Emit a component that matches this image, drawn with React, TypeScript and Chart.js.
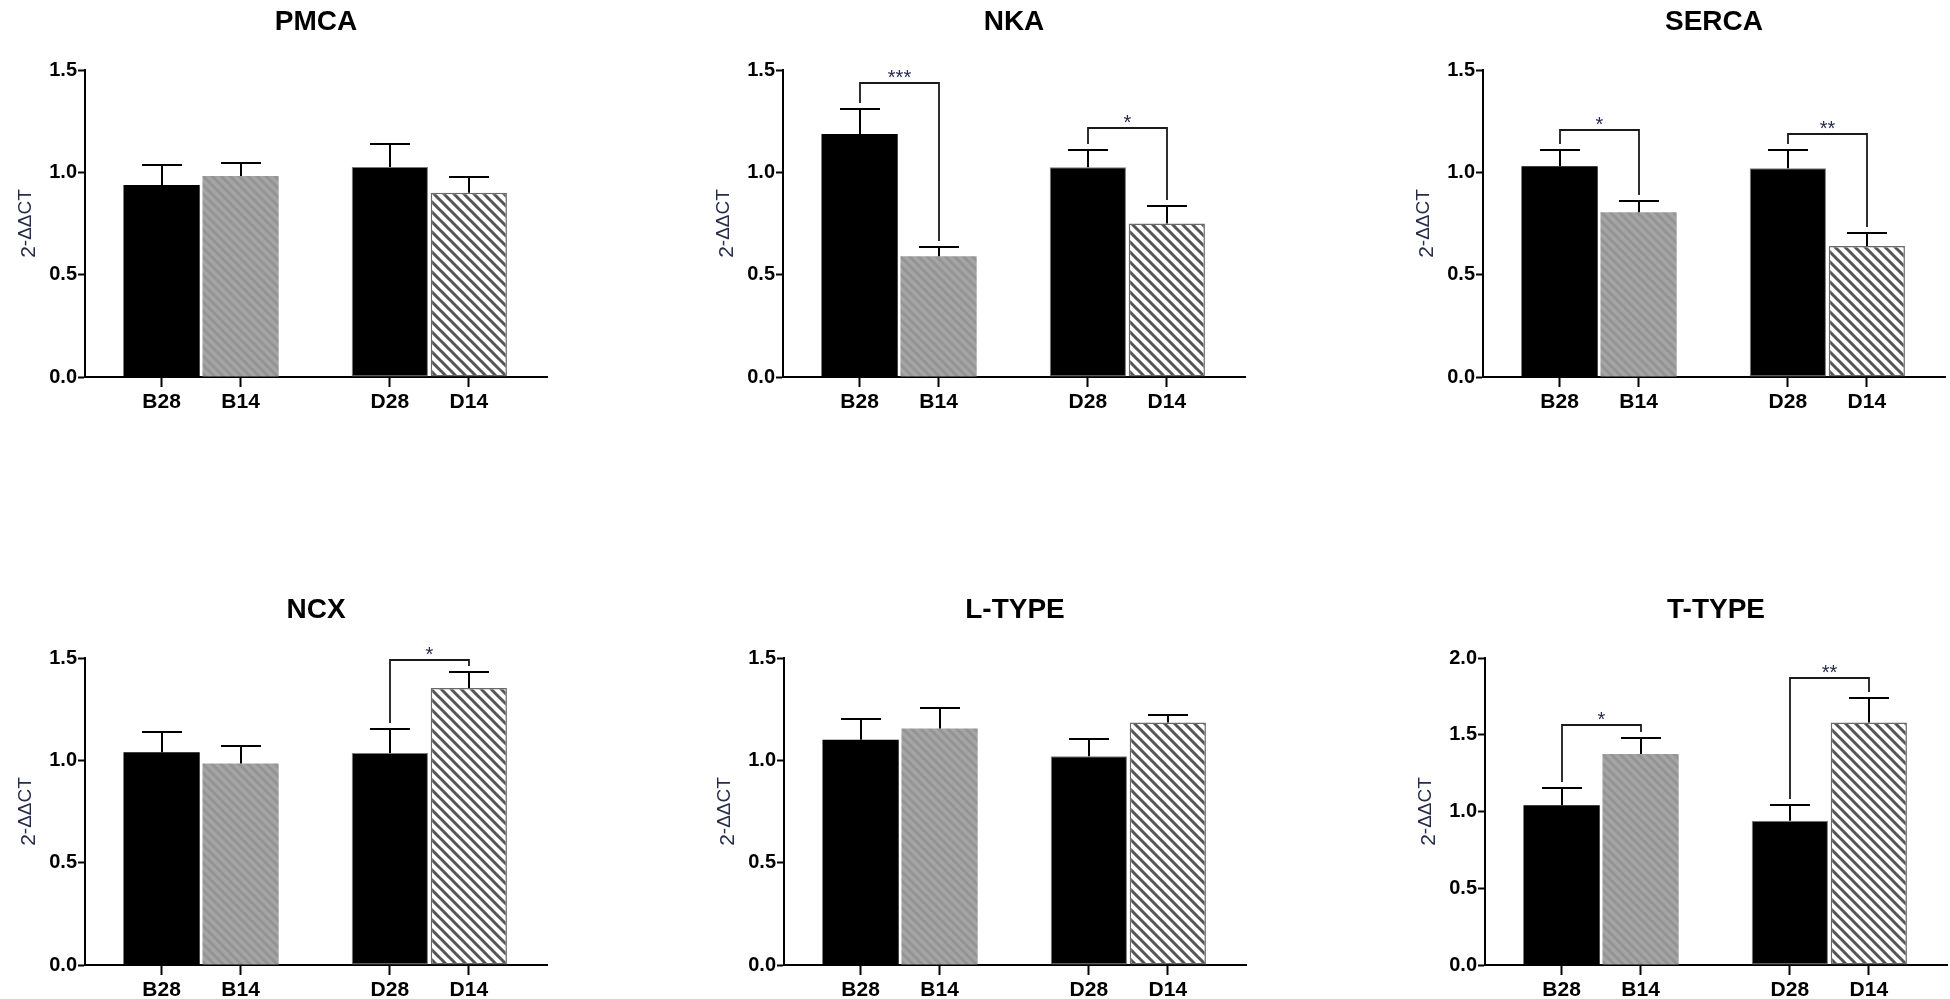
import React, { useEffect, useRef } from "react";
import { Chart, registerables, Plugin } from "chart.js";

Chart.register(...registerables);

const FONT = "'Liberation Sans', Arial, Helvetica, sans-serif";
const INK = "#262c4a";

const categories = ["B28", "B14", "D28", "D14"];

// mean and SEM per group
const pmcaMean = [0.938, 0.982, 1.026, 0.9];
const pmcaSem = [0.098, 0.063, 0.112, 0.075];

const nkaMean = [1.187, 0.59, 1.025, 0.75];
const nkaSem = [0.123, 0.045, 0.085, 0.085];
const nkaPairs = [[0, 1], [2, 3]];
const nkaLevels = [1.436, 1.215];
const nkaStars = ["***", "*"];

const sercaMean = [1.03, 0.805, 1.02, 0.64];
const sercaSem = [0.079, 0.055, 0.089, 0.063];
const sercaPairs = [[0, 1], [2, 3]];
const sercaLevels = [1.207, 1.187];
const sercaStars = ["*", "**"];

const ncxMean = [1.04, 0.985, 1.036, 1.353];
const ncxSem = [0.1, 0.085, 0.117, 0.077];
const ncxPairs = [[2, 3]];
const ncxLevels = [1.49];
const ncxStars = ["*"];

const ltypeMean = [1.1, 1.155, 1.02, 1.185];
const ltypeSem = [0.1, 0.1, 0.085, 0.035];

const ttypeMean = [1.04, 1.375, 0.94, 1.58];
const ttypeSem = [0.11, 0.105, 0.1, 0.16];
const ttypePairs = [[0, 1], [2, 3]];
const ttypeLevels = [1.565, 1.87];
const ttypeStars = ["*", "**"];

// horizontal placement of the four bars on a linear axis (gap between B and D groups)
const GROUP_GAP = 0.89;
const xOf = (i: number) => 0.97 + i + (i >= 2 ? GROUP_GAP : 0);

interface PanelProps {
  title: string;
  mean: number[];
  sem: number[];
  yMax: number;
  pairs?: number[][];
  levels?: number[];
  stars?: string[];
  left: number;
  top: number;
  width: number;
}

const CANVAS_H = 411;

function stripes(ctx: CanvasRenderingContext2D, bg: string, fg: string, lw: number, n: number) {
  const c = document.createElement("canvas");
  c.width = n;
  c.height = n;
  const g = c.getContext("2d")!;
  g.fillStyle = bg;
  g.fillRect(0, 0, n, n);
  g.strokeStyle = fg;
  g.lineWidth = lw;
  g.beginPath();
  for (const k of [-n, 0, n]) {
    g.moveTo(k - 1, -1);
    g.lineTo(k + n + 1, n + 1);
  }
  g.stroke();
  return ctx.createPattern(c, "repeat") as CanvasPattern;
}

function Panel({ title, mean, sem, yMax, pairs = [], levels = [], stars = [], left, top, width }: PanelProps) {
  const canvasRef = useRef<HTMLCanvasElement | null>(null);

  useEffect(() => {
    if (!canvasRef.current) return;
    const ctx = canvasRef.current.getContext("2d");
    if (!ctx) return;

    const grayHatch = stripes(ctx, "#a5a5a5", "#949494", 3, 9);
    const darkHatch = stripes(ctx, "#ffffff", "#555555", 3, 10);

    const overlay: Plugin<"bar"> = {
      id: "overlay",
      afterDatasetsDraw(chart) {
        const { ctx: c, chartArea } = chart;
        const ys = chart.scales.y;
        const meta = chart.getDatasetMeta(0);
        c.save();

        // error bars (upper SEM only)
        c.strokeStyle = "#000";
        c.lineWidth = 2;
        const errTop: number[] = [];
        mean.forEach((m, i) => {
          const bar = meta.data[i] as any;
          const x = Math.round(bar.x);
          const yTop = Math.round(ys.getPixelForValue(m + sem[i]));
          errTop.push(yTop);
          c.beginPath();
          c.moveTo(x, bar.y);
          c.lineTo(x, yTop);
          c.moveTo(x - 20, yTop);
          c.lineTo(x + 20, yTop);
          c.stroke();
        });

        // significance brackets
        c.lineWidth = 1.8;
        c.strokeStyle = "#1a1a1a";
        c.fillStyle = INK;
        c.font = `20px ${FONT}`;
        c.textAlign = "center";
        c.textBaseline = "alphabetic";
        pairs.forEach(([a, b], k) => {
          const xa = Math.round((meta.data[a] as any).x);
          const xb = Math.round((meta.data[b] as any).x);
          const yb = Math.round(ys.getPixelForValue(levels[k]));
          c.beginPath();
          c.moveTo(xa, errTop[a] - 6);
          c.lineTo(xa, yb);
          c.lineTo(xb, yb);
          c.lineTo(xb, errTop[b] - 6);
          c.stroke();
          c.fillText(stars[k], (xa + xb) / 2, yb + 1);
        });

        // panel title
        c.fillStyle = "#000";
        c.font = `bold 28px ${FONT}`;
        c.fillText(title, (chartArea.left + chartArea.right) / 2, 30);

        // y axis label 2^-ΔΔCT
        const big = `21px ${FONT}`;
        const small = `19px ${FONT}`;
        c.font = big;
        const w1 = c.measureText("2").width;
        c.font = small;
        const w2 = c.measureText("-ΔΔCT").width;
        c.translate(chartArea.left - 58, (chartArea.top + chartArea.bottom) / 2);
        c.rotate(-Math.PI / 2);
        c.fillStyle = INK;
        c.textAlign = "left";
        const x0 = -(w1 + w2) / 2;
        c.font = big;
        c.fillText("2", x0, 8);
        c.font = small;
        c.fillText("-ΔΔCT", x0 + w1, 4);

        c.restore();
      },
    };

    const chart = new Chart(ctx, {
      type: "bar",
      data: {
        datasets: [
          {
            data: categories.map((_, i) => ({ x: xOf(i), y: mean[i] })),
            backgroundColor: ["#000000", grayHatch, "#000000", darkHatch],
            borderColor: ["#000000", "#a8a8a8", "#7a7a7a", "#6a6a6a"],
            borderWidth: [0, 0, 1, 1.5],
            borderSkipped: false,
            barPercentage: 0.965,
            categoryPercentage: 1,
          },
        ],
      },
      options: {
        animation: false,
        responsive: false,
        devicePixelRatio: 1,
        layout: { padding: { top: 70, left: 0, right: width - 547, bottom: 0 } },
        plugins: {
          legend: { display: false },
          title: { display: false },
          tooltip: { enabled: false },
        },
        scales: {
          x: {
            type: "linear",
            min: 0,
            max: 5.85,
            bounds: "data",
            offset: false,
            afterBuildTicks: (s: any) => {
              s.ticks = categories.map((_, i) => ({ value: xOf(i) }));
            },
            afterFit: (s: any) => {
              s.height = 34;
            },
            grid: {
              offset: false,
              drawOnChartArea: false,
              tickLength: 10,
              tickWidth: 2,
              tickColor: "#000",
            },
            border: { color: "#000", width: 2 },
            ticks: {
              autoSkip: false,
              maxRotation: 0,
              padding: 3,
              color: "#000",
              font: { family: FONT, size: 21, weight: "bold" },
              callback: (_v: any, i: number) => categories[i],
            },
          },
          y: {
            min: 0,
            max: yMax,
            afterFit: (s: any) => {
              s.width = 85;
            },
            grid: {
              drawOnChartArea: false,
              tickLength: 7,
              tickWidth: 2,
              tickColor: "#000",
            },
            border: { color: "#000", width: 2 },
            ticks: {
              stepSize: 0.5,
              padding: 1,
              color: "#000",
              font: { family: FONT, size: 20, weight: "bold" },
              callback: (v: any) => Number(v).toFixed(1),
            },
          },
        },
      },
      plugins: [overlay],
    });

    return () => chart.destroy();
  }, [title, mean, sem, yMax, pairs, levels, stars, width]);

  return (
    <canvas
      ref={canvasRef}
      width={width}
      height={CANVAS_H}
      style={{ position: "absolute", left, top, width, height: CANVAS_H }}
    />
  );
}

export default function App() {
  return (
    <div
      style={{
        position: "fixed",
        left: 0,
        top: 0,
        width: 1950,
        height: 999,
        background: "#fff",
        overflow: "hidden",
      }}
    >
      <Panel title="PMCA" mean={pmcaMean} sem={pmcaSem} yMax={1.5} left={0} top={0} width={560} />
      <Panel
        title="NKA"
        mean={nkaMean}
        sem={nkaSem}
        yMax={1.5}
        pairs={nkaPairs}
        levels={nkaLevels}
        stars={nkaStars}
        left={698}
        top={0}
        width={560}
      />
      <Panel
        title="SERCA"
        mean={sercaMean}
        sem={sercaSem}
        yMax={1.5}
        pairs={sercaPairs}
        levels={sercaLevels}
        stars={sercaStars}
        left={1398}
        top={0}
        width={552}
      />
      <Panel
        title="NCX"
        mean={ncxMean}
        sem={ncxSem}
        yMax={1.5}
        pairs={ncxPairs}
        levels={ncxLevels}
        stars={ncxStars}
        left={0}
        top={588}
        width={560}
      />
      <Panel title="L-TYPE" mean={ltypeMean} sem={ltypeSem} yMax={1.5} left={699} top={588} width={560} />
      <Panel
        title="T-TYPE"
        mean={ttypeMean}
        sem={ttypeSem}
        yMax={2.0}
        pairs={ttypePairs}
        levels={ttypeLevels}
        stars={ttypeStars}
        left={1400}
        top={588}
        width={550}
      />
    </div>
  );
}
